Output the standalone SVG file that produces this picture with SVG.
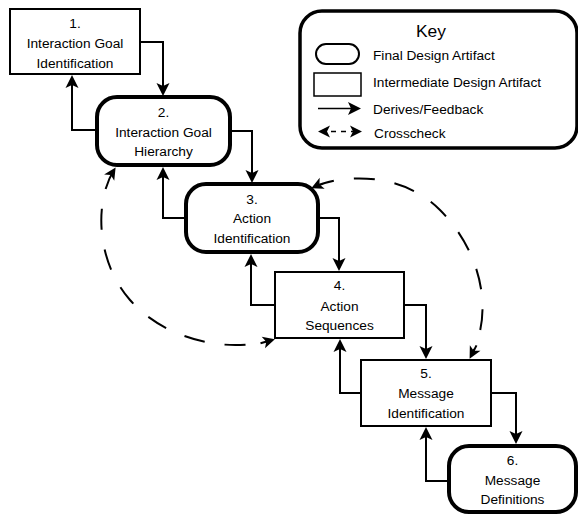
<svg xmlns="http://www.w3.org/2000/svg" width="578" height="515" viewBox="0 0 578 515">
<style>
text{font-family:"Liberation Sans",Arial,sans-serif;font-size:13.7px;fill:#000}
.c{text-anchor:middle}
.inter{fill:#fff;stroke:#000;stroke-width:2}
.final{fill:#fff;stroke:#000;stroke-width:4}
.conn{fill:none;stroke:#000;stroke-width:2}
.dash{fill:none;stroke:#000;stroke-width:2;stroke-dasharray:21 20}
</style>
<defs>
<marker id="arr" markerUnits="userSpaceOnUse" viewBox="-14 -7 15 14" refX="-3" refY="0" markerWidth="15" markerHeight="14" orient="auto">
<path d="M-13,-6.5 L0,0 L-13,6.5 L-10,0 Z" fill="#000"/>
</marker>
<marker id="arrS" markerUnits="userSpaceOnUse" viewBox="-14 -7 15 14" refX="-3" refY="0" markerWidth="15" markerHeight="14" orient="auto-start-reverse">
<path d="M-12,-6 L0,0 L-12,6 L-9,0 Z" fill="#000"/>
</marker>
</defs>
<rect id="key" x="300" y="11" width="277" height="137" rx="22" fill="#fff" stroke="#000" stroke-width="3.5"/>
<g id="key-content">
<text class="c" x="431" y="37" style="font-size:17.4px">Key</text>
<rect x="316" y="44" width="43" height="20" rx="10" fill="#fff" stroke="#000" stroke-width="2"/>
<text x="373" y="60">Final Design Artifact</text>
<rect x="314" y="73" width="47" height="23" fill="#fff" stroke="#000" stroke-width="1.5"/>
<text x="373" y="87">Intermediate Design Artifact</text>
<path class="conn" d="M318,108.5 H358" style="stroke-width:1.5" marker-end="url(#arr)"/>
<text x="373" y="114">Derives/Feedback</text>
<path class="dash" d="M321,131.5 H359" style="stroke-dasharray:5 5;stroke-width:1.5" marker-start="url(#arrS)" marker-end="url(#arrS)"/>
<text x="374" y="138">Crosscheck</text>
</g>
<g id="connectors">
<path class="conn" d="M140,42 H163 V93" marker-end="url(#arr)"/>
<path class="conn" d="M97,130 H72 V78" marker-end="url(#arr)"/>
<path class="conn" d="M230,131 H252 V180" marker-end="url(#arr)"/>
<path class="conn" d="M186,218 H163 V170" marker-end="url(#arr)"/>
<path class="conn" d="M318,218 H339 V268" marker-end="url(#arr)"/>
<path class="conn" d="M275,305 H251 V257" marker-end="url(#arr)"/>
<path class="conn" d="M404,305 H426 V356" marker-end="url(#arr)"/>
<path class="conn" d="M361,393 H340 V342" marker-end="url(#arr)"/>
<path class="conn" d="M491,393 H516 V441" marker-end="url(#arr)"/>
<path class="conn" d="M449,481 H426 V430" marker-end="url(#arr)"/>
<path class="dash" d="M114,170 C95,200 95,260 130,300 C160,335 220,355 272,340" marker-start="url(#arrS)" marker-end="url(#arrS)"/>
<path class="conn" d="M260.5,343.3 L272,340"/>
<path class="dash" d="M314,187 C340,175 400,170 440,210 C480,250 495,310 471,356" marker-start="url(#arrS)" marker-end="url(#arrS)"/>
<path class="conn" d="M476.5,345.4 L471,356"/>
</g>
<g id="n1">
<rect class="inter" x="10" y="9" width="130" height="65"/>
<text class="c" x="75" y="28">1.</text>
<text class="c" x="75" y="48">Interaction Goal</text>
<text class="c" x="75" y="68">Identification</text>
</g>
<g id="n2">
<rect class="final" x="97" y="97" width="133" height="68" rx="20"/>
<text class="c" x="163.5" y="117">2.</text>
<text class="c" x="163.5" y="136.5">Interaction Goal</text>
<text class="c" x="163.5" y="156">Hierarchy</text>
</g>
<g id="n3">
<rect class="final" x="186" y="184" width="132" height="68" rx="20"/>
<text class="c" x="252" y="203.5">3.</text>
<text class="c" x="252" y="223">Action</text>
<text class="c" x="252" y="243">Identification</text>
</g>
<g id="n4">
<rect class="inter" x="275" y="272" width="129" height="66"/>
<text class="c" x="339.5" y="290">4.</text>
<text class="c" x="339.5" y="310.5">Action</text>
<text class="c" x="339.5" y="330">Sequences</text>
</g>
<g id="n5">
<rect class="inter" x="361" y="360" width="130" height="66"/>
<text class="c" x="426" y="378">5.</text>
<text class="c" x="426" y="398">Message</text>
<text class="c" x="426" y="418">Identification</text>
</g>
<g id="n6">
<rect class="final" x="449" y="446" width="127" height="66" rx="20"/>
<text class="c" x="512.5" y="464.5">6.</text>
<text class="c" x="512.5" y="484.5">Message</text>
<text class="c" x="512.5" y="504">Definitions</text>
</g>
</svg>
